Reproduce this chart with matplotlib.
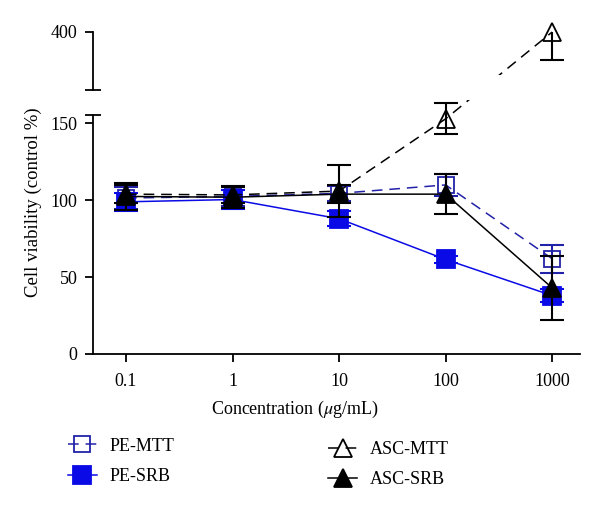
import numpy as np
import matplotlib
matplotlib.use("Agg")
import matplotlib.pyplot as plt

plt.rcParams['font.family'] = ['Liberation Serif', 'DejaVu Serif']
plt.rcParams['mathtext.fontset'] = 'stix'

conc = [0.1, 1, 10, 100, 1000]
conc_labels = ["0.1", "1", "10", "100", "1000"]

pe_mtt = [101.5, 102.5, 104.5, 110, 62]
pe_mtt_err = [7, 6, 5, 7, 9]
pe_srb = [99, 100.5, 88, 61.5, 38]
pe_srb_err = [6, 6, 5, 2, 4]
asc_mtt = [104, 103.5, 106, 153, 400]
asc_mtt_err = [6, 5, 17, 10, 29]
asc_srb = [102.5, 102, 104, 104, 43]
asc_srb_err = [8.5, 7, 6, 13, 21]

yticks = [0, 50, 100, 150, 400]

# broken y axis: 0-170 linear, squeezed gap, 340-400 on its own scale
v_pts = np.array([-1000, 0, 170, 340, 400, 2000])
d_pts = np.array([-1537, 0, 261.3, 264, 322, 322 + 1600 * 0.967])


def fwd(v):
    return np.interp(v, v_pts, d_pts)


def inv(d):
    return np.interp(d, d_pts, v_pts)


fig = plt.figure(figsize=(6, 5.12), dpi=100)
ax = fig.add_axes([0.155, 0.3086, 0.812, 0.6289])
ax.set_xscale('log')
ax.set_yscale('function', functions=(fwd, inv))
ax.set_xlim(0.049, 1833)
ax.set_ylim(0, 400)

dash = (7, 4.5)
blue = '#0a0ae6'
navy = '#2222a8'

series = [
    (pe_mtt, pe_mtt_err, 'PE-MTT', navy, '--', 's', 'none', 12),
    (pe_srb, pe_srb_err, 'PE-SRB', blue, '-', 's', blue, 13),
    (asc_mtt, asc_mtt_err, 'ASC-MTT', 'black', '--', '^', 'none', 13),
    (asc_srb, asc_srb_err, 'ASC-SRB', 'black', '-', '^', 'black', 13),
]

handles = []
for vals, err, name, col, ls, mk, fc, ms in series:
    ax.errorbar(conc, vals, yerr=err, fmt='none', ecolor=col, elinewidth=1.5,
                capsize=8.5, capthick=1.5, zorder=2)
    ln, = ax.plot(conc, vals, color=col, ls=ls, lw=1.1, marker=mk, markersize=ms,
                  markerfacecolor=fc, markeredgecolor=col, markeredgewidth=1.3,
                  clip_on=False, zorder=2, label=name)
    if ls == '--':
        ln.set_dashes(dash)
    handles.append(ln)

# blank the line where the axis is broken
ax.axhspan(165.5, 355.5, facecolor='white', edgecolor='none', zorder=2.5)

for s in ['top', 'right', 'left']:
    ax.spines[s].set_visible(False)
ax.spines['bottom'].set_linewidth(1.3)

ytr = ax.get_yaxis_transform()
ax.plot([0, 0], [0, 155.5], color='k', lw=1.3, transform=ytr, clip_on=False, zorder=3)
ax.plot([0, 0], [340, 400], color='k', lw=1.3, transform=ytr, clip_on=False, zorder=3)
ax.plot([0, 0], [155.5, 340], ls='none', marker='_', markersize=11, mew=1.3,
        color='k', transform=ytr, clip_on=False, zorder=3)

ax.set_yticks(yticks)
ax.set_yticklabels([str(t) for t in yticks])
ax.set_xticks(conc)
ax.set_xticklabels(conc_labels)
ax.minorticks_off()
ax.tick_params(axis='both', direction='out', length=6, width=1.3, labelsize=13, pad=5)
ax.tick_params(axis='x', pad=8)

ax.set_ylabel('Cell viability (control %)', fontsize=13.5)
ax.yaxis.set_label_coords(-0.105, 0.47)
ax.set_xlabel(r'Concentration ($\mu$g/mL)', fontsize=13)
ax.xaxis.set_label_coords(0.415, -0.14)

leg_kw = dict(frameon=False, fontsize=13, handlelength=1.6, handletextpad=0.7,
              labelspacing=0.75, borderpad=0, borderaxespad=0, numpoints=1, loc='upper left')
fig.legend(handles[:2], ['PE-MTT', 'PE-SRB'], bbox_to_anchor=(0.113, 0.145), **leg_kw)
fig.legend(handles[2:], ['ASC-MTT', 'ASC-SRB'], bbox_to_anchor=(0.547, 0.139), **leg_kw)

fig.savefig('out.png', dpi=100)
